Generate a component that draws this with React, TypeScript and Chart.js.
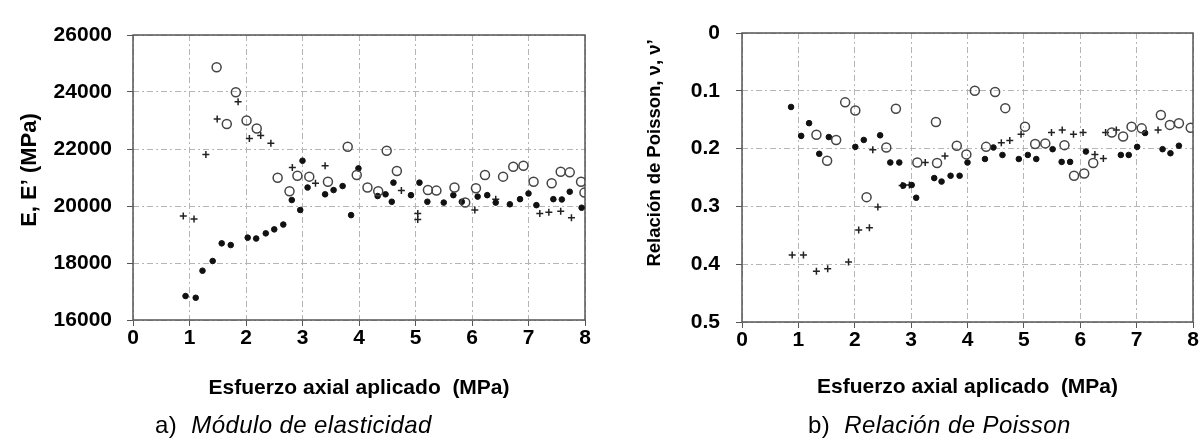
import React, { useEffect, useRef } from "react";
import { Chart, registerables } from "chart.js";

Chart.register(...registerables);

// ---------- Data: (a) Módulo de elasticidad ----------
const xTicks = [0, 1, 2, 3, 4, 5, 6, 7, 8];
const eTicks = [16000, 18000, 20000, 22000, 24000, 26000];
const nuTicks = [0, 0.1, 0.2, 0.3, 0.4, 0.5];

const circlesE_x = [1.48, 1.66, 1.82, 2.01, 2.19, 2.56, 2.77, 2.91, 3.12, 3.45, 3.80, 3.96, 4.15, 4.34, 4.49, 4.67, 5.22, 5.37, 5.69, 5.88, 6.07, 6.23, 6.55, 6.73, 6.91, 7.09, 7.41, 7.57, 7.73, 7.93, 7.99];
const circlesE_y = [24870, 22880, 23990, 23000, 22720, 20990, 20520, 21060, 21030, 20850, 22080, 21090, 20650, 20520, 21940, 21230, 20560, 20540, 20650, 20120, 20620, 21090, 21030, 21380, 21410, 20850, 20800, 21200, 21180, 20850, 20470];

const dotsE_x = [0.93, 1.11, 1.23, 1.41, 1.57, 1.73, 2.03, 2.18, 2.35, 2.50, 2.66, 2.81, 2.96, 3.00, 3.09, 3.40, 3.55, 3.71, 3.86, 3.99, 4.33, 4.47, 4.58, 4.61, 4.92, 5.07, 5.21, 5.50, 5.67, 5.82, 6.10, 6.27, 6.42, 6.67, 6.85, 7.00, 7.14, 7.44, 7.59, 7.73, 7.94];
const dotsE_y = [16840, 16780, 17730, 18070, 18690, 18630, 18890, 18860, 19040, 19180, 19350, 20210, 19860, 21590, 20650, 20410, 20560, 20700, 19680, 21320, 20350, 20410, 20150, 20820, 20380, 20820, 20150, 20120, 20380, 20150, 20330, 20380, 20120, 20060, 20240, 20440, 20030, 20240, 20230, 20500, 19940];

const plusE_x = [0.89, 1.08, 1.29, 1.49, 1.86, 2.06, 2.26, 2.44, 2.82, 3.23, 3.40, 4.75, 5.04, 5.04, 6.05, 6.42, 7.20, 7.36, 7.57, 7.76];
const plusE_y = [19650, 19540, 21810, 23050, 23660, 22370, 22470, 22200, 21350, 20800, 21410, 20540, 19740, 19530, 19860, 20240, 19740, 19780, 19820, 19590];

// ---------- Data: (b) Relación de Poisson ----------
const circlesN_x = [1.32, 1.51, 1.67, 1.83, 2.01, 2.21, 2.56, 2.73, 3.11, 3.44, 3.46, 3.81, 3.98, 4.13, 4.33, 4.49, 4.67, 5.02, 5.20, 5.38, 5.72, 5.89, 6.07, 6.23, 6.56, 6.76, 6.91, 7.09, 7.43, 7.59, 7.75, 7.96];
const circlesN_y = [0.176, 0.221, 0.185, 0.120, 0.134, 0.284, 0.198, 0.131, 0.224, 0.154, 0.225, 0.195, 0.210, 0.100, 0.197, 0.102, 0.130, 0.162, 0.192, 0.191, 0.194, 0.247, 0.243, 0.225, 0.172, 0.179, 0.162, 0.165, 0.142, 0.159, 0.156, 0.164];

const dotsN_x = [0.87, 1.05, 1.19, 1.37, 1.54, 2.01, 2.16, 2.45, 2.63, 2.79, 2.86, 3.01, 3.09, 3.41, 3.54, 3.70, 3.86, 4.00, 4.31, 4.46, 4.62, 4.91, 5.07, 5.22, 5.51, 5.67, 5.82, 6.10, 6.72, 6.86, 7.01, 7.15, 7.46, 7.60, 7.75];
const dotsN_y = [0.128, 0.178, 0.156, 0.209, 0.180, 0.197, 0.185, 0.177, 0.224, 0.224, 0.264, 0.263, 0.285, 0.251, 0.257, 0.247, 0.247, 0.224, 0.218, 0.198, 0.211, 0.218, 0.211, 0.218, 0.201, 0.223, 0.223, 0.205, 0.211, 0.211, 0.197, 0.173, 0.201, 0.208, 0.195];

const plusN_x = [0.89, 1.09, 1.32, 1.52, 1.89, 2.07, 2.26, 2.32, 2.41, 2.84, 2.97, 3.25, 3.60, 4.60, 4.75, 4.95, 5.49, 5.68, 5.88, 6.05, 6.26, 6.41, 6.45, 6.64, 7.38];
const plusN_y = [0.384, 0.384, 0.412, 0.408, 0.396, 0.341, 0.337, 0.202, 0.301, 0.264, 0.263, 0.224, 0.213, 0.190, 0.186, 0.175, 0.172, 0.168, 0.175, 0.172, 0.210, 0.217, 0.172, 0.168, 0.168];

const xTitle = "Esfuerzo axial aplicado  (MPa)";
const yTitleE = "E, E’ (MPa)";
const yTitleN = "Relación de Poisson, ν, ν’";

const FONT = "'Liberation Sans', Arial, sans-serif";

const zip = (xs: number[], ys: number[]) => xs.map((x, i) => ({ x, y: ys[i] }));

const framePlugin = {
  id: "frame",
  beforeDatasetsDraw(chart: any) {
    const { ctx, chartArea: a } = chart;
    ctx.save();
    ctx.strokeStyle = "#555";
    ctx.lineWidth = 1.5;
    ctx.strokeRect(a.left, a.top, a.right - a.left, a.bottom - a.top);
    ctx.restore();
  },
};

// Rotated y-axis title drawn at a fixed place (real canvas text)
const yTitlePlugin = {
  id: "yTitleFixed",
  afterDraw(chart: any, _args: any, opts: any) {
    if (!opts || !opts.text) return;
    const { ctx } = chart;
    ctx.save();
    ctx.translate(opts.x, opts.y);
    ctx.rotate(-Math.PI / 2);
    ctx.font = `bold ${opts.size}px ${FONT}`;
    ctx.fillStyle = "#000";
    ctx.textAlign = "center";
    ctx.textBaseline = "middle";
    ctx.fillText(opts.text, 0, 0);
    ctx.restore();
  },
};

type Opts = {
  circles: any[];
  dots: any[];
  plus: any[];
  yTicks: number[];
  yTitle: string;
  yTitleX: number;
  yTitleY: number;
  yTitleSize: number;
  reverse: boolean;
  padding: any;
  yWidth: number;
  xHeight: number;
  yTickPad: number;
  fmt: (v: number) => string;
};

function makeConfig(o: Opts): any {
  const gridCommon = {
    color: "#b5b5b5",
    lineWidth: 1,
    drawTicks: true,
    tickLength: 6,
    tickColor: "#555",
    tickBorderDash: [],
  };
  return {
    type: "scatter",
    data: {
      datasets: [
        {
          data: o.circles,
          pointStyle: "circle",
          pointRadius: 4.5,
          borderColor: "#444",
          backgroundColor: "rgba(255,255,255,0)",
          borderWidth: 1.5,
        },
        {
          data: o.dots,
          pointStyle: "circle",
          pointRadius: 2.8,
          borderColor: "#111",
          backgroundColor: "#111",
          borderWidth: 1,
        },
        {
          data: o.plus,
          pointStyle: "cross",
          pointRadius: 3.5,
          borderColor: "#222",
          backgroundColor: "#222",
          borderWidth: 1.5,
        },
      ],
    },
    plugins: [framePlugin, yTitlePlugin],
    options: {
      animation: false,
      responsive: false,
      maintainAspectRatio: false,
      layout: { padding: o.padding },
      plugins: {
        legend: { display: false },
        tooltip: { enabled: false },
        yTitleFixed: { text: o.yTitle, x: o.yTitleX, y: o.yTitleY, size: o.yTitleSize },
      },
      scales: {
        x: {
          type: "linear",
          min: 0,
          max: 8,
          afterBuildTicks: (s: any) => {
            s.ticks = xTicks.map((v) => ({ value: v }));
          },
          afterFit: (s: any) => {
            s.height = o.xHeight;
          },
          ticks: {
            color: "#000",
            font: { family: FONT, size: 21, weight: "bold" },
            padding: 0,
            maxRotation: 0,
            autoSkip: false,
            callback: (v: number) => String(v),
          },
          grid: gridCommon,
          border: { display: false, dash: [6, 3, 2, 3] },
          title: {
            display: true,
            text: xTitle,
            color: "#000",
            font: { family: FONT, size: 21, weight: "bold" },
            padding: 0,
          },
        },
        y: {
          type: "linear",
          min: o.yTicks[0],
          max: o.yTicks[o.yTicks.length - 1],
          reverse: o.reverse,
          afterBuildTicks: (s: any) => {
            s.ticks = o.yTicks.map((v) => ({ value: v }));
          },
          afterFit: (s: any) => {
            s.width = o.yWidth;
          },
          ticks: {
            color: "#000",
            font: { family: FONT, size: 21, weight: "bold" },
            padding: o.yTickPad,
            autoSkip: false,
            callback: (v: number) => o.fmt(v),
          },
          grid: gridCommon,
          border: { display: false, dash: [6, 3, 2, 3] },
          title: { display: false },
        },
      },
    },
  };
}

function ChartBox(props: { config: any; left: number; width: number; height: number }) {
  const ref = useRef<HTMLCanvasElement>(null);
  useEffect(() => {
    if (!ref.current) return;
    const c = new Chart(ref.current, props.config);
    return () => c.destroy();
  }, []);
  return (
    <canvas
      ref={ref}
      width={props.width}
      height={props.height}
      style={{ position: "absolute", left: props.left, top: 0, width: props.width, height: props.height }}
    />
  );
}

const captionStyle: React.CSSProperties = {
  position: "absolute",
  top: 411,
  fontFamily: FONT,
  fontSize: 24,
  letterSpacing: "0.4px",
  lineHeight: "28px",
  color: "#000",
  whiteSpace: "pre",
};

export default function App() {
  const cfgE = makeConfig({
    circles: zip(circlesE_x, circlesE_y),
    dots: zip(dotsE_x, dotsE_y),
    plus: zip(plusE_x, plusE_y),
    yTicks: eTicks,
    yTitle: yTitleE,
    yTitleX: 30,
    yTitleY: 170,
    yTitleSize: 22,
    reverse: false,
    padding: { left: 18, top: 35, right: 15, bottom: 40 },
    yWidth: 115,
    xHeight: 81,
    yTickPad: 15,
    fmt: (v) => String(v),
  });
  const cfgN = makeConfig({
    circles: zip(circlesN_x, circlesN_y),
    dots: zip(dotsN_x, dotsN_y),
    plus: zip(plusN_x, plusN_y),
    yTicks: nuTicks,
    yTitle: yTitleN,
    yTitleX: 55,
    yTitleY: 153,
    yTitleSize: 18.5,
    reverse: true,
    padding: { left: 43, top: 33, right: 10, bottom: 41 },
    yWidth: 99,
    xHeight: 78,
    yTickPad: 16,
    fmt: (v) => String(+v.toFixed(1)),
  });
  return (
    <div style={{ position: "fixed", left: 0, top: 0, width: 1203, height: 441, background: "#fff", overflow: "hidden" }}>
      <ChartBox config={cfgE} left={0} width={600} height={441} />
      <ChartBox config={cfgN} left={600} width={603} height={441} />
      <div style={{ ...captionStyle, left: 155 }}>
        {"a)  "}
        <i>Módulo de elasticidad</i>
      </div>
      <div style={{ ...captionStyle, left: 808 }}>
        {"b)  "}
        <i>Relación de Poisson</i>
      </div>
    </div>
  );
}
